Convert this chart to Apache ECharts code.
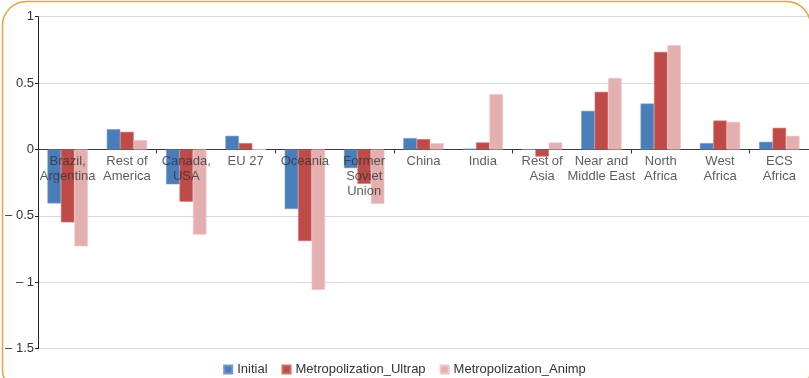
<!DOCTYPE html>
<html>
<head>
<meta charset="utf-8">
<script src="https://cdn.jsdelivr.net/npm/echarts@6/dist/echarts.min.js"></script>
<style>
  html, body { margin: 0; padding: 0; background: #ffffff; }
  #chart { width: 809px; height: 378px; }
</style>
</head>
<body>
<div id="chart"></div>
<script>
// Regions along the category axis
const regions = [
  'Brazil,\nArgentina', 'Rest of\nAmerica', 'Canada,\nUSA', 'EU 27', 'Oceania',
  'Former\nSoviet\nUnion', 'China', 'India', 'Rest of\nAsia', 'Near and\nMiddle East',
  'North\nAfrica', 'West\nAfrica', 'ECS\nAfrica'
];

// Series values per region
const initial = [-0.406, 0.153, -0.262, 0.103, -0.448, -0.14, 0.086, 0.005, 0.0, 0.291, 0.346, 0.048, 0.058];
const metroUltrap = [-0.549, 0.133, -0.393, 0.048, -0.689, -0.258, 0.078, 0.053, -0.053, 0.434, 0.735, 0.218, 0.163];
const metroAnimp = [-0.729, 0.07, -0.641, 0.0, -1.057, -0.41, 0.048, 0.417, 0.053, 0.539, 0.785, 0.208, 0.103];

const seriesNames = ['Initial', 'Metropolization_Ultrap', 'Metropolization_Animp'];

// Value axis ticks
const yMin = -1.5, yMax = 1, yStep = 0.5;

const font = '"Liberation Sans", Arial, sans-serif';
const colors = ['#4a7ebb', '#be4b48', '#e4afaf'];
const borders = ['#6e98c9', '#cc6f6c', '#eec6c6'];

const chart = echarts.init(document.getElementById('chart'), null, { renderer: 'canvas' });

function fmtTick(v) {
  if (v < 0) return '\u2013 ' + String(Math.abs(v));
  return String(v);
}

const datasets = [initial, metroUltrap, metroAnimp];

const barSeries = seriesNames.map((name, i) => ({
  name: name,
  type: 'bar',
  data: datasets[i],
  barGap: '0%',
  barCategoryGap: '32%',
  itemStyle: { color: colors[i], borderColor: borders[i], borderWidth: 0.6 }
}));

// Region names hang just below the zero line, on top of the bars
const regionLabels = {
  name: 'regionLabels',
  type: 'scatter',
  silent: true,
  z: 10,
  symbolSize: 0,
  data: regions.map((r) => [r, 0]),
  label: {
    show: true,
    position: 'bottom',
    distance: 4,
    formatter: (p) => p.name,
    fontFamily: font,
    fontSize: 13,
    lineHeight: 15,
    color: '#333',
    align: 'center'
  }
};

chart.setOption({
  animation: false,
  backgroundColor: '#ffffff',
  textStyle: { fontFamily: font },
  graphic: [{
    type: 'rect',
    silent: true,
    z: 100,
    shape: { x: 2.5, y: 1.5, width: 808, height: 392, r: 24 },
    style: { fill: 'none', stroke: '#e7a43f', lineWidth: 1.5 }
  }],
  legend: {
    top: 362,
    left: 'center',
    padding: 0,
    itemWidth: 8,
    itemHeight: 8,
    itemGap: 14,
    icon: 'rect',
    textStyle: { fontFamily: font, fontSize: 13, color: '#333', lineHeight: 15 },
    data: seriesNames
  },
  grid: { left: 38, right: 0, top: 16.7, bottom: 29.3, containLabel: false, outerBoundsMode: 'none' },
  xAxis: {
    type: 'category',
    data: regions,
    axisLine: { onZero: true, lineStyle: { color: '#3a3a3a', width: 1 } },
    axisTick: { show: true, length: 4, inside: false, lineStyle: { color: '#3a3a3a' } },
    axisLabel: { show: false },
    splitLine: { show: false }
  },
  yAxis: {
    type: 'value',
    min: yMin,
    max: yMax,
    interval: yStep,
    axisLine: { show: true, lineStyle: { color: '#222', width: 1 } },
    axisTick: { show: true, length: 3, lineStyle: { color: '#222' } },
    axisLabel: {
      formatter: fmtTick,
      margin: 4,
      fontFamily: font,
      fontSize: 13,
      color: '#333'
    },
    splitLine: { show: true, lineStyle: { color: '#d9d9d9', width: 1 } }
  },
  series: barSeries.concat([regionLabels])
});
</script>
</body>
</html>
